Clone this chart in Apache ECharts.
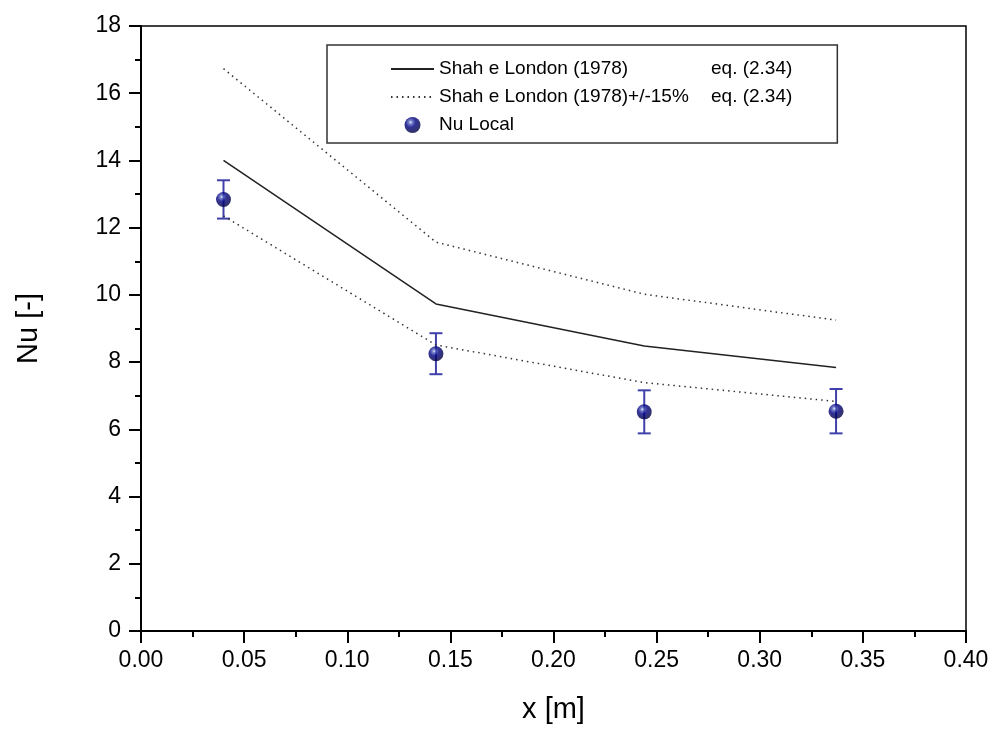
<!DOCTYPE html>
<html>
<head>
<meta charset="utf-8">
<script src="https://cdn.jsdelivr.net/npm/echarts@6/dist/echarts.min.js"></script>
<style>
html,body{margin:0;padding:0;background:#fff;overflow:hidden;}
#chart{width:994px;height:729px;}
</style>
</head>
<body>
<div id="chart"></div>
<script>
var xValues = [0.04, 0.143, 0.244, 0.337];
var shahLondon = [14.0, 9.73, 8.48, 7.84];
var shahUpper = [16.73, 11.57, 10.02, 9.25];
var shahLower = [12.35, 8.51, 7.39, 6.83];
var nuLocal = [12.84, 8.25, 6.52, 6.54];
var nuErr = [0.57, 0.61, 0.64, 0.66];
var xTicks = [0, 0.05, 0.10, 0.15, 0.20, 0.25, 0.30, 0.35, 0.40];
var yTicks = [0, 2, 4, 6, 8, 10, 12, 14, 16, 18];

var nameMain = 'Shah e London (1978)';
var nameBand = 'Shah e London (1978)+/-15%';
var nameNu = 'Nu Local';

function pairs(xs, ys) { return xs.map(function (x, i) { return [x, ys[i]]; }); }

var FONT = '"Liberation Sans", Arial, sans-serif';
var sphere = new echarts.graphic.RadialGradient(0.38, 0.33, 0.72, [
  { offset: 0, color: '#e0e8fa' },
  { offset: 0.15, color: '#5a68c0' },
  { offset: 0.42, color: '#000080' },
  { offset: 1, color: '#00003a' }
]);
var errColor = '#4040aa';

var chart = echarts.init(document.getElementById('chart'), null, { renderer: 'canvas', width: 994, height: 729 });
chart.setOption({
  animation: false,
  backgroundColor: '#fff',
  grid: { left: 141, right: 28, top: 26, bottom: 93, show: true, borderColor: '#000', borderWidth: 1.5, backgroundColor: 'transparent' },
  legend: {
    left: 327, top: 45, orient: 'vertical',
    padding: [14, 45, 8, 63],
    itemGap: 8, itemWidth: 43, itemHeight: 16,
    borderColor: '#333', borderWidth: 1.5, backgroundColor: '#fff',
    data: [
      { name: nameMain, itemStyle: { opacity: 0 } },
      { name: nameBand, itemStyle: { opacity: 0 } },
      { name: nameNu }
    ],
    textStyle: {
      fontFamily: FONT, fontSize: 19, color: '#000', lineHeight: 20,
      rich: {
        a: { fontFamily: FONT, fontSize: 19, color: '#000', width: 272, lineHeight: 20 },
        b: { fontFamily: FONT, fontSize: 19, color: '#000', lineHeight: 20 }
      }
    },
    formatter: function (n) {
      if (n === nameNu) return '{a|' + n + '}';
      return '{a|' + n + '}{b|eq. (2.34)}';
    }
  },
  xAxis: {
    type: 'value', min: 0, max: 0.4, interval: 0.05,
    name: 'x [m]', nameLocation: 'middle', nameGap: 64,
    nameTextStyle: { fontFamily: FONT, fontSize: 29, color: '#000' },
    axisLine: { onZero: false, lineStyle: { color: '#000', width: 2 } },
    axisTick: { inside: false, length: 12, lineStyle: { color: '#000', width: 2 } },
    minorTick: { show: true, splitNumber: 2, length: 6, lineStyle: { color: '#000', width: 2 } },
    splitLine: { show: false },
    axisLabel: { fontFamily: FONT, fontSize: 23, color: '#000', margin: 18,
      formatter: function (v) { return v.toFixed(2); } }
  },
  yAxis: {
    type: 'value', min: 0, max: 18, interval: 2,
    name: 'Nu [-]', nameLocation: 'middle', nameGap: 98, nameRotate: 90,
    nameTextStyle: { fontFamily: FONT, fontSize: 29, color: '#000' },
    axisLine: { onZero: false, lineStyle: { color: '#000', width: 2 } },
    axisTick: { inside: false, length: 12, lineStyle: { color: '#000', width: 2 } },
    minorTick: { show: true, splitNumber: 2, length: 6, lineStyle: { color: '#000', width: 2 } },
    splitLine: { show: false },
    axisLabel: { fontFamily: FONT, fontSize: 23, color: '#000', margin: 20 }
  },
  series: [
    { name: nameMain, type: 'line', data: pairs(xValues, shahLondon), symbol: 'none',
      lineStyle: { color: '#222', width: 1.5 }, itemStyle: { color: '#222' } },
    { name: nameBand, type: 'line', data: pairs(xValues, shahUpper), symbol: 'none',
      lineStyle: { color: '#333', width: 1.5, type: [1.5, 4] }, itemStyle: { color: '#333' } },
    { name: nameBand, type: 'line', data: pairs(xValues, shahLower), symbol: 'none',
      lineStyle: { color: '#333', width: 1.5, type: [1.5, 4] }, itemStyle: { color: '#333' } },
    { name: 'err', type: 'custom',
      data: xValues.map(function (x, i) { return [x, nuLocal[i] - nuErr[i], nuLocal[i] + nuErr[i]]; }),
      renderItem: function (params, api) {
        var lo = api.coord([api.value(0), api.value(1)]);
        var hi = api.coord([api.value(0), api.value(2)]);
        var w = 6.5;
        var st = { stroke: errColor, lineWidth: 2 };
        return { type: 'group', children: [
          { type: 'line', shape: { x1: lo[0], y1: lo[1], x2: hi[0], y2: hi[1] }, style: st },
          { type: 'line', shape: { x1: lo[0] - w, y1: lo[1], x2: lo[0] + w, y2: lo[1] }, style: st },
          { type: 'line', shape: { x1: hi[0] - w, y1: hi[1], x2: hi[0] + w, y2: hi[1] }, style: st }
        ] };
      },
      z: 3 },
    { name: nameNu, type: 'scatter', data: pairs(xValues, nuLocal), symbol: 'circle', symbolSize: 15,
      itemStyle: { color: sphere }, z: 4 }
  ]
});
</script>
</body>
</html>
